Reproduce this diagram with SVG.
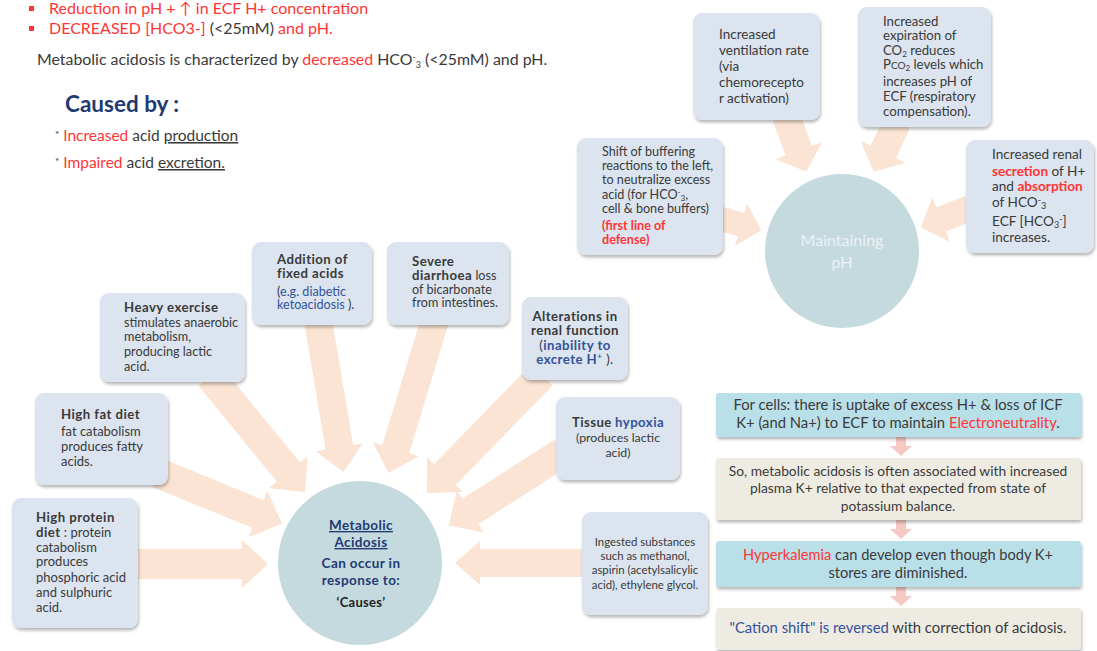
<svg xmlns="http://www.w3.org/2000/svg" width="1097" height="651" viewBox="0 0 1097 651">
<defs>
<filter id="sh" x="-10%" y="-10%" width="125%" height="130%">
<feDropShadow dx="1" dy="2.5" stdDeviation="1.6" flood-color="#000" flood-opacity="0.28"/>
</filter>
<style>
text{font-family:"Lato","Liberation Sans",sans-serif;fill:#3a3a3a;}
.box{fill:#dbe4ef;filter:url(#sh);}
.circ{fill:#c5dadf;}
.arr{fill:#fbe4d3;}
.flowb{fill:#b9dfe9;filter:url(#sh);}
.flowc{fill:#eeece2;filter:url(#sh);}
.farr{fill:#f6c9c5;}
.r{fill:#ff3535;}
.b{font-weight:bold;}
.hd{font-weight:bold;font-size:13.2px;letter-spacing:0.45px;}
.bl{fill:#33529a;}
.nv{fill:#1f3a73;}
.mid{text-anchor:middle;}
</style>
</defs>
<rect width="1097" height="651" fill="#ffffff"/>

<g id="header">
<rect x="29" y="6" width="5" height="5" fill="#ff3535"/>
<text x="49" y="14" font-size="16" class="r">Reduction in pH + ↑ in ECF H+ concentration</text>
<rect x="29" y="26" width="5" height="5" fill="#ff3535"/>
<text x="49" y="34" font-size="16"><tspan class="r">DECREASED [HCO3-]</tspan> (&lt;25mM) <tspan class="r">and pH.</tspan></text>
<text x="37" y="65" font-size="15.9">Metabolic acidosis is characterized by <tspan class="r">decreased</tspan> HCO<tspan font-size="9" dy="-5">-</tspan><tspan font-size="9" dy="8">3</tspan><tspan dy="-3"> (&lt;25mM) and pH.</tspan></text>
<text x="65" y="112" font-size="22.5" class="b nv">Caused by :</text>
<text x="55" y="141" font-size="15.5"><tspan font-size="10" dy="-3">*</tspan><tspan dy="3"> </tspan><tspan class="r">Increased</tspan> acid <tspan text-decoration="underline">production</tspan></text>
<text x="55" y="168" font-size="15.5"><tspan font-size="10" dy="-3">*</tspan><tspan dy="3"> </tspan><tspan class="r">Impaired</tspan> acid <tspan text-decoration="underline">excretion.</tspan></text>
</g>

<g id="connectors">
<!-- top right cluster -->
<polygon class="arr" transform="translate(786,116) rotate(70)" points="0,-14 37,-14 37,-25 59,0 37,25 37,14 0,14"/>
<polygon class="arr" transform="translate(897,123) rotate(115.6)" points="0,-14 32,-14 32,-25 54,0 32,25 32,14 0,14"/>
<polygon class="arr" transform="translate(718,218) rotate(16)" points="0,-12 24,-12 24,-22 45,0 24,22 24,12 0,12"/>
<polygon class="arr" transform="translate(970,208) rotate(158.4)" points="0,-13 31,-13 31,-24 53,0 31,24 31,13 0,13"/>
<!-- left cluster -->
<polygon class="arr" transform="translate(132,564) rotate(0)" points="0,-15 110,-15 110,-24 136,0 110,24 110,15 0,15"/>
<polygon class="arr" transform="translate(158,473) rotate(22.3)" points="0,-15 108,-15 108,-25 134,0 108,25 108,15 0,15"/>
<polygon class="arr" transform="translate(210,376) rotate(50.8)" points="0,-15 124,-15 124,-25 150,0 124,25 124,15 0,15"/>
<polygon class="arr" transform="translate(318,320) rotate(80.5)" points="0,-14 129,-14 129,-24 154,0 129,24 129,14 0,14"/>
<polygon class="arr" transform="translate(435,320) rotate(106.9)" points="0,-14 135,-14 135,-24 160,0 135,24 135,14 0,14"/>
<polygon class="arr" transform="translate(542,375) rotate(134.3)" points="0,-15 139,-15 139,-25 165,0 139,25 139,15 0,15"/>
<polygon class="arr" transform="translate(563,452) rotate(147.3)" points="0,-15 110,-15 110,-25 136,0 110,25 110,15 0,15"/>
<polygon class="arr" transform="translate(586,563) rotate(180)" points="0,-14 106,-14 106,-22 131,0 106,22 106,14 0,14"/>
<!-- flow arrows -->
<polygon class="farr" points="896,437 906,437 906,446 912,446 901,456 890,446 896,446"/>
<polygon class="farr" points="896,520 906,520 906,529 912,529 901,539 890,529 896,529"/>
<polygon class="farr" points="896,587 906,587 906,596 912,596 901,606 890,596 896,596"/>
</g>

<g id="maintaining-ph">
<circle class="circ" cx="842" cy="251" r="77"/>
<text x="842" y="246" font-size="16" class="mid" style="fill:#eaf2f4">Maintaining</text>
<text x="842" y="268" font-size="16" class="mid" style="fill:#eaf2f4">pH</text>
</g>

<g id="ventilation" font-size="13.5">
<rect class="box" x="693" y="13" width="127" height="107" rx="9"/>
<text x="719" y="39">Increased</text>
<text x="719" y="55">ventilation rate</text>
<text x="719" y="71">(via</text>
<text x="719" y="87">chemorecepto</text>
<text x="719" y="103">r activation)</text>
</g>

<g id="expiration" font-size="13.2">
<rect class="box" x="858" y="7" width="133" height="120" rx="9"/>
<text x="883" y="26">Increased</text>
<text x="883" y="40">expiration of</text>
<text x="883" y="55">CO<tspan font-size="8" dy="2">2</tspan><tspan dy="-2"> reduces</tspan></text>
<text x="883" y="69">P<tspan font-size="10">CO</tspan><tspan font-size="8" dy="2">2</tspan><tspan dy="-2"> levels which</tspan></text>
<text x="883" y="86">increases pH of</text>
<text x="883" y="101">ECF (respiratory</text>
<text x="883" y="116">compensation).</text>
</g>

<g id="buffering" font-size="12.6">
<rect class="box" x="577" y="138" width="146" height="117" rx="9"/>
<text x="602" y="156">Shift of buffering</text>
<text x="602" y="170">reactions to the left,</text>
<text x="602" y="184">to neutralize excess</text>
<text x="602" y="199">acid (for HCO<tspan font-size="8" dy="-4">-</tspan><tspan font-size="8" dy="6">3</tspan><tspan dy="-2">,</tspan></text>
<text x="602" y="213">cell &amp; bone buffers)</text>
<text class="r b" x="602" y="230">(first line of</text>
<text class="r b" x="602" y="244">defense)</text>
</g>

<g id="renal" font-size="13.6">
<rect class="box" x="966" y="140" width="128" height="113" rx="9"/>
<text x="992" y="159">Increased renal</text>
<text x="992" y="176"><tspan class="r b">secretion</tspan> of H+</text>
<text x="992" y="191">and <tspan class="r b">absorption</tspan></text>
<text x="992" y="207">of HCO<tspan font-size="9" dy="-4">-</tspan><tspan font-size="9" dy="6">3</tspan></text>
<text x="992" y="226">ECF [HCO<tspan font-size="9" dy="2">3</tspan><tspan font-size="9" dy="-6">-</tspan><tspan dy="4">]</tspan></text>
<text x="992" y="242">increases.</text>
</g>

<g id="metabolic-acidosis">
<circle class="circ" cx="360" cy="563" r="82"/>
<text x="361" y="530" font-size="13.5" letter-spacing="0.4" class="mid b nv" text-decoration="underline">Metabolic</text>
<text x="361" y="547" font-size="13.5" letter-spacing="0.4" class="mid b nv" text-decoration="underline">Acidosis</text>
<text x="361" y="568" font-size="13.5" letter-spacing="0.4" class="mid b nv">Can occur in</text>
<text x="361" y="585" font-size="13.5" letter-spacing="0.4" class="mid b nv">response to:</text>
<text x="361" y="607" font-size="13" letter-spacing="0.3" class="mid b" style="fill:#222">‘Causes’</text>
</g>

<g id="high-protein" font-size="13">
<rect class="box" x="12" y="498" width="126" height="130" rx="9"/>
<text class="hd" x="36" y="522">High protein</text>
<text x="36" y="537"><tspan class="hd">diet</tspan> : protein</text>
<text x="36" y="552">catabolism</text>
<text x="36" y="566">produces</text>
<text x="36" y="582">phosphoric acid</text>
<text x="36" y="597">and sulphuric</text>
<text x="36" y="612">acid.</text>
</g>

<g id="high-fat" font-size="13">
<rect class="box" x="35" y="393" width="133" height="92" rx="9"/>
<text class="hd" x="61" y="419">High fat diet</text>
<text x="61" y="436">fat catabolism</text>
<text x="61" y="451">produces fatty</text>
<text x="61" y="466">acids.</text>
</g>

<g id="heavy-exercise" font-size="12.7">
<rect class="box" x="100" y="293" width="145" height="89" rx="9"/>
<text class="hd" x="124" y="312">Heavy exercise</text>
<text x="124" y="327">stimulates anaerobic</text>
<text x="124" y="341">metabolism,</text>
<text x="124" y="356">producing lactic</text>
<text x="124" y="371">acid.</text>
</g>

<g id="fixed-acids" font-size="12.6">
<rect class="box" x="252" y="242" width="120" height="83" rx="9"/>
<text class="hd" x="277" y="264">Addition of</text>
<text class="hd" x="277" y="278">fixed acids</text>
<text x="277" y="296">(<tspan class="bl">e.g. diabetic</tspan></text>
<text x="277" y="309"><tspan class="bl">ketoacidosis</tspan> ).</text>
</g>

<g id="diarrhoea" font-size="12.6">
<rect class="box" x="387" y="242" width="122" height="83" rx="9"/>
<text class="hd" x="412" y="266">Severe</text>
<text x="412" y="280"><tspan class="hd">diarrhoea</tspan> loss</text>
<text x="412" y="294">of bicarbonate</text>
<text x="412" y="307">from intestines.</text>
</g>

<g id="renal-function" font-size="13.2" letter-spacing="0.45">
<rect class="box" x="522" y="297" width="106" height="83" rx="9"/>
<text class="b mid" x="575" y="321">Alterations in</text>
<text class="b mid" x="575" y="335">renal function</text>
<text class="mid" x="575" y="350">(<tspan class="b bl">inability to</tspan></text>
<text class="mid" x="575" y="364"><tspan class="b bl">excrete H<tspan font-size="8" dy="-5">+</tspan></tspan><tspan dy="5"> ).</tspan></text>
</g>

<g id="tissue-hypoxia" font-size="12.3">
<rect class="box" x="556" y="397" width="124" height="83" rx="9"/>
<text class="mid" x="618" y="427"><tspan class="hd">Tissue</tspan> <tspan class="hd bl">hypoxia</tspan></text>
<text class="mid" x="618" y="442">(produces lactic</text>
<text class="mid" x="618" y="457">acid)</text>
</g>

<g id="ingested" font-size="11.4">
<rect class="box" x="582" y="512" width="126" height="103" rx="9"/>
<text class="mid" x="645" y="546">Ingested substances</text>
<text class="mid" x="645" y="560">such as methanol,</text>
<text class="mid" x="645" y="574">aspirin (acetylsalicylic</text>
<text class="mid" x="645" y="589">acid), ethylene glycol.</text>
</g>

<g id="flow-cells" font-size="14.8">
<rect class="flowb" x="716" y="393" width="365" height="44" rx="3"/>
<text class="mid" x="898" y="410">For cells: there is uptake of excess H+ &amp; loss of ICF</text>
<text class="mid" x="898" y="428">K+ (and Na+) to ECF to maintain <tspan class="r">Electroneutrality</tspan>.</text>
</g>

<g id="flow-plasma" font-size="13.8">
<rect class="flowc" x="716" y="458" width="365" height="62" rx="3"/>
<text class="mid" x="898" y="476">So, metabolic acidosis is often associated with increased</text>
<text class="mid" x="898" y="493">plasma K+ relative to that expected from state of</text>
<text class="mid" x="898" y="511">potassium balance.</text>
</g>

<g id="flow-hyperkalemia" font-size="14.6">
<rect class="flowb" x="716" y="541" width="365" height="46" rx="3"/>
<text class="mid" x="898" y="560"><tspan class="r">Hyperkalemia</tspan> can develop even though body K+</text>
<text class="mid" x="898" y="578">stores are diminished.</text>
</g>

<g id="flow-reversed" font-size="14.8">
<rect class="flowc" x="716" y="608" width="365" height="42" rx="3"/>
<text class="mid" x="898" y="633"><tspan class="bl">"Cation shift" is reversed</tspan> with correction of acidosis.</text>
</g>
</svg>
